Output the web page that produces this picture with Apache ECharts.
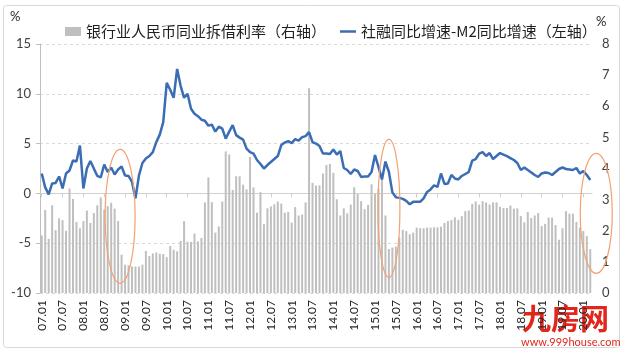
<!DOCTYPE html>
<html>
<head>
<meta charset="utf-8">
<script src="https://cdn.jsdelivr.net/npm/echarts@6/dist/echarts.min.js"></script>
<style>
    html, body { margin: 0; padding: 0; background: #fff; }
    #chart { width: 625px; height: 353px; }
</style>
</head>
<body>
<div id="chart"></div>
<script>
// Monthly categories, 2007.01 - 2020.03
var startYear = 2007;
var monthCount = 159;
var months = [];
for (var i = 0; i < monthCount; i++) {
    var y = startYear + Math.floor(i / 12);
    var m = (i % 12) + 1;
    months.push(String(y).slice(2) + '.' + (m < 10 ? '0' + m : m));
}

// 银行业人民币同业拆借利率 (right axis, %)
var rateData = [
    1.85, 2.67, 1.74, 2.82, 2.02, 2.40, 2.34, 2.00, 3.36, 3.02,
    2.28, 2.08, 2.31, 2.65, 2.25, 2.57, 2.82, 3.07, 2.68, 2.79,
    2.90, 2.71, 2.31, 1.23, 0.91, 0.89, 0.85, 0.85, 0.85, 0.91,
    1.35, 1.19, 1.27, 1.30, 1.26, 1.25, 1.15, 1.51, 1.39, 1.34,
    1.67, 2.31, 1.65, 1.64, 1.91, 1.66, 1.77, 2.91, 3.71, 2.92,
    1.94, 2.14, 2.94, 4.55, 4.45, 3.31, 3.75, 3.75, 3.48, 3.33,
    4.37, 3.39, 2.58, 3.24, 2.21, 2.72, 2.78, 2.85, 2.94, 2.87,
    2.58, 2.60, 2.26, 2.76, 2.49, 2.52, 2.91, 6.58, 3.54, 3.45,
    3.46, 3.84, 4.11, 4.15, 3.86, 3.01, 2.49, 2.72, 2.56, 2.84,
    3.40, 3.18, 2.95, 2.69, 2.83, 3.49, 3.18, 3.35, 3.80, 2.49,
    1.41, 1.46, 1.49, 1.78, 2.03, 1.99, 1.89, 1.94, 2.10, 2.08,
    2.08, 2.10, 2.10, 2.11, 2.11, 2.13, 2.25, 2.31, 2.34, 2.43,
    2.35, 2.47, 2.63, 2.65, 2.86, 2.94, 2.84, 2.95, 2.91, 2.84,
    2.91, 2.91, 2.77, 2.73, 2.73, 2.81, 2.71, 2.72, 2.47, 2.27,
    2.60, 2.41, 2.49, 2.57, 2.15, 2.22, 2.42, 2.42, 2.18, 1.71,
    2.08, 2.63, 2.55, 2.55, 2.28, 2.10, 1.99, 1.83, 1.41
];

// 社融同比增速-M2同比增速 (left axis, %)
var gapData = [
    2.0, 0.6, -0.1, 1.0, 1.05, 1.7, 0.5, 2.0, 2.3, 3.3,
    3.2, 4.8, 0.5, 2.5, 3.25, 2.5, 1.75, 1.6, 2.9, 2.15,
    2.6, 1.9, 2.4, 2.7, 1.8, 1.75, 1.15, -0.5, 1.8, 3.05,
    3.5, 3.75, 4.15, 5.15, 5.9, 7.15, 11.1, 10.4, 9.6, 12.5,
    10.8, 9.6, 10.0, 8.5, 8.0, 7.75, 7.4, 7.3, 6.8, 6.9,
    6.2, 6.7, 6.5, 5.5, 6.2, 6.85, 5.85, 5.6, 5.4, 4.5,
    4.15, 4.0, 3.35, 2.95, 2.5, 2.85, 3.15, 3.45, 3.75, 4.85,
    5.1, 5.25, 5.05, 5.45, 5.3, 5.65, 5.75, 6.15, 5.15, 5.0,
    4.75, 4.0, 4.0, 3.95, 4.4, 3.9, 4.25, 2.55, 2.35, 1.95,
    2.4, 2.25, 1.65, 1.7, 1.7, 2.15, 3.85, 2.65, 1.4, 3.2,
    2.15, 0.1, -0.4, -0.45, -0.55, -0.75, -1.1, -0.85, -0.85, -0.85,
    -0.5, 0.15, 0.4, 0.8, 0.65, 2.0, 0.95, 1.0, 1.85, 1.5,
    1.4, 1.75, 1.95, 2.15, 3.3, 3.45, 4.0, 4.15, 3.75, 4.05,
    3.45, 3.75, 4.05, 3.9, 3.75, 3.55, 3.35, 3.05, 2.35, 2.6,
    2.35, 2.1, 1.85, 1.65, 2.0, 2.1, 2.05, 1.85, 2.15, 2.45,
    2.6, 2.45, 2.4, 2.35, 2.55, 2.0, 2.25, 1.85, 1.35
];

// Hand-drawn highlight ellipses: month index, left-axis value, radii
var highlights = [
    { month: 22, value: -2.3, dx: 2, rx: 15, ry: 67 },
    { month: 100, value: -1.5, dx: 0, rx: 11, ry: 69 },
    { month: 158, value: -2.0, dx: 6, rx: 16, ry: 60 }
];

var chartEl = document.getElementById('chart');
var chart = echarts.init(chartEl);

var numFont = 'Lato, "Liberation Sans", sans-serif';
var cjkFont = '"Noto Sans CJK SC", sans-serif';

chart.setOption({
    animation: false,
    backgroundColor: '#fff',

    // Legend
    legend: {
        top: 19,
        left: 60,
        itemGap: 14,
        itemWidth: 16,
        itemHeight: 9,
        textStyle: { fontFamily: cjkFont, fontSize: 15, color: '#1f1f1f' },
        data: [
            { name: '银行业人民币同业拆借利率（右轴）', icon: 'rect' },
            { name: '社融同比增速-M2同比增速（左轴）', icon: 'path://M0,0 L16,0 L16,2.5 L0,2.5 Z' }
        ]
    },

    grid: { left: 40, right: 33, top: 44, bottom: 60 },

    xAxis: [{
        type: 'category',
        data: months,
        boundaryGap: true,
        axisLine: { show: false, onZero: false },
        axisTick: { show: false },
        axisLabel: {
            interval: 5,
            rotate: 90,
            margin: 7,
            fontFamily: numFont,
            fontSize: 12,
            color: '#262626'
        },
        splitLine: { show: false }
    }, {
        // zero line with ticks, like the Excel category axis
        type: 'category',
        data: months,
        boundaryGap: true,
        position: 'bottom',
        axisLine: { show: true, onZero: true, onZeroAxisIndex: 0, lineStyle: { color: '#d0d0d0', width: 1 } },
        axisTick: { show: true, interval: 5, alignWithLabel: true, length: 4, lineStyle: { color: '#d0d0d0' } },
        axisLabel: { show: false },
        splitLine: { show: false }
    }],

    yAxis: [{
        type: 'value',
        position: 'left',
        min: -10,
        max: 15,
        interval: 5,
        axisLine: { show: true, lineStyle: { color: '#bfbfbf' } },
        axisTick: { show: true, length: 4, lineStyle: { color: '#bfbfbf' } },
        axisLabel: { fontFamily: numFont, fontSize: 13, color: '#404040', margin: 9 },
        splitLine: { lineStyle: { color: '#d9d9d9', type: [3, 3] } }
    }, {
        type: 'value',
        position: 'right',
        min: 0,
        max: 8,
        interval: 1,
        axisLine: { show: false },
        axisTick: { show: false },
        axisLabel: { fontFamily: numFont, fontSize: 13, color: '#404040', margin: 10 },
        splitLine: { show: false }
    }],

    series: [{
        name: '银行业人民币同业拆借利率（右轴）',
        type: 'bar',
        xAxisIndex: 0,
        yAxisIndex: 1,
        barWidth: 2,
        itemStyle: { color: '#bfbfbf' },
        data: rateData
    }, {
        name: '社融同比增速-M2同比增速（左轴）',
        type: 'line',
        xAxisIndex: 0,
        yAxisIndex: 0,
        symbol: 'none',
        z: 3,
        lineStyle: { width: 2.5, color: '#3b6db4' },
        itemStyle: { color: '#3b6db4' },
        data: gapData
    }]
});

// Annotations: axis units, ellipses, frame, watermark
var graphics = [
    {
        type: 'rect', silent: true,
        shape: { x: 3.5, y: 5.5, width: 616, height: 342, r: 3 },
        style: { fill: 'none', stroke: '#d9d9d9', lineWidth: 1 }
    },
    { type: 'text', left: 10, top: 10, style: { text: '%', fontFamily: numFont, fontSize: 13, fill: '#262626' } },
    { type: 'text', left: 596, top: 15, style: { text: '%', fontFamily: numFont, fontSize: 13, fill: '#262626' } },
    { type: 'text', left: 522, top: 304, style: { text: '九房网', fontFamily: cjkFont, fontSize: 29, fontWeight: 'bold', fill: '#e2261b' } },
    { type: 'text', left: 521, top: 337, style: { text: 'www.999house.com', fontFamily: numFont, fontSize: 11, fill: '#e2261b' } }
];

highlights.forEach(function (h) {
    var px = chart.convertToPixel({ xAxisIndex: 0 }, h.month) + h.dx;
    var py = chart.convertToPixel({ yAxisIndex: 0 }, h.value);
    graphics.push({
        type: 'ellipse',
        silent: true,
        z: 10,
        shape: { cx: px, cy: py, rx: h.rx, ry: h.ry },
        style: { fill: 'none', stroke: '#f2a170', lineWidth: 1.2 }
    });
});

chart.setOption({ graphic: graphics });

window.addEventListener('resize', function () {
    chart.resize();
});
</script>
</body>
</html>
